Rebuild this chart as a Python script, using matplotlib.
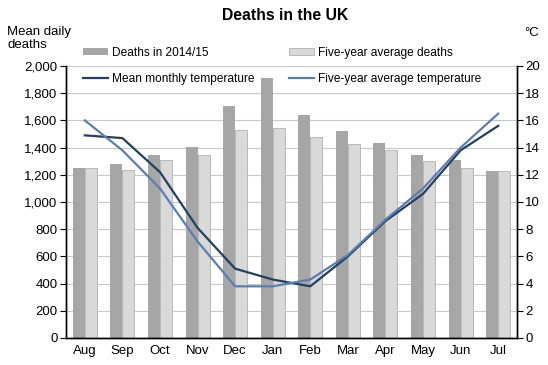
import matplotlib.pyplot as plt
import numpy as np

months = ['Aug', 'Sep', 'Oct', 'Nov', 'Dec', 'Jan', 'Feb', 'Mar', 'Apr', 'May', 'Jun', 'Jul']
deaths_1415 = [1250, 1280, 1345, 1405, 1705, 1910, 1640, 1520, 1435, 1345, 1310, 1230]
deaths_avg = [1250, 1235, 1310, 1345, 1530, 1545, 1480, 1425, 1385, 1300, 1250, 1230]
temp_mean = [14.9, 14.7, 12.2, 8.1, 5.1, 4.3, 3.8, 6.0, 8.6, 10.6, 13.8, 15.6]
temp_avg = [16.0, 13.8, 11.0, 7.1, 3.8, 3.8, 4.3, 6.1, 8.7, 11.0, 14.0, 16.5]

plt.rcParams['font.family'] = 'Liberation Sans'

fig = plt.figure(figsize=(5.48, 3.65), dpi=100)
ax = fig.add_axes([66/548, 1 - 338/365, 451/548, 272/365])
ax2 = ax.twinx()

x = np.arange(len(months))
w = 0.32
b1 = ax.bar(x - w/2, deaths_1415, w, color='#a6a6a6', zorder=2, label='Deaths in 2014/15')
b2 = ax.bar(x + w/2, deaths_avg, w, color='#d9d9d9', edgecolor='#b0b0b0', linewidth=0.6,
            zorder=2, label='Five-year average deaths')

l1, = ax2.plot(x, temp_mean, color='#243f60', lw=1.6, label='Mean monthly temperature')
l2, = ax2.plot(x, temp_avg, color='#5b7db1', lw=1.6, label='Five-year average temperature')

ax.set_xlim(-0.5, 11.5)
ax.set_ylim(0, 2000)
ax.set_yticks(range(0, 2001, 200))
ax.set_yticklabels(['{:,}'.format(v) for v in range(0, 2001, 200)])
ax.yaxis.grid(True, color='#c8c8c8', lw=0.8, zorder=0)
ax.set_axisbelow(True)
ax.set_xticks(x)
ax.set_xticklabels(months)
ax.tick_params(axis='x', length=0, pad=5, labelsize=9.5)
ax.tick_params(axis='y', length=4, labelsize=9.5, pad=2)

ax2.set_ylim(0, 20)
ax2.set_yticks(range(0, 21, 2))
ax2.tick_params(axis='y', length=4, labelsize=9.5, pad=2)

for a in (ax, ax2):
    a.spines['top'].set_visible(False)
    for s in ('left', 'right', 'bottom'):
        a.spines[s].set_linewidth(1.0)

fig.text(285/548, 1 - 16/365, 'Deaths in the UK', ha='center', va='center',
         fontsize=11.3, fontweight='bold')
fig.text(7/548, 1 - 38.5/365, 'Mean daily\ndeaths', ha='left', va='center', fontsize=9.5,
         linespacing=1.0)
fig.text(524/548, 1 - 33/365, '°C', ha='left', va='center', fontsize=9.5)

# one legend per entry so each sits where the reference has it
entries = [(b1, 83, 53), (b2, 289, 53), (l1, 83, 79), (l2, 289, 79)]
for h, lx, ly in entries:
    leg = fig.legend([h], [h.get_label()], loc='center left',
                     bbox_to_anchor=(lx/548, 1 - ly/365), frameon=False,
                     fontsize=8.6, handlelength=2.1, handleheight=0.5,
                     handletextpad=0.3, borderpad=0, borderaxespad=0)

fig.savefig('out.png', dpi=100)
